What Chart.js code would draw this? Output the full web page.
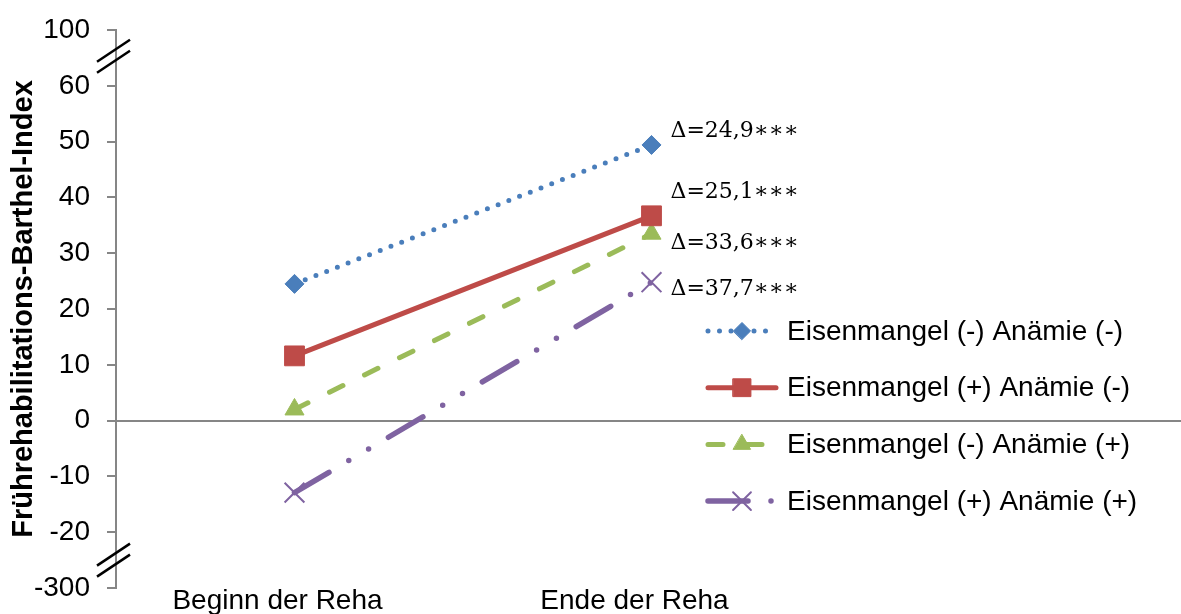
<!DOCTYPE html>
<html>
<head>
<meta charset="utf-8">
<script src="https://cdn.jsdelivr.net/npm/chart.js@4.4.1/dist/chart.umd.min.js"></script>
<style>
  html, body { margin: 0; padding: 0; background: #ffffff; }
  #wrap { width: 1181px; height: 614px; position: relative; }
</style>
</head>
<body>
<div id="wrap"><canvas id="chart" width="1181" height="614"></canvas></div>
<script>
// Categories and series (Frührehabilitations-Barthel-Index, mean per group)
const categories = ['Beginn der Reha', 'Ende der Reha'];
const seriesNames = [
  'Eisenmangel (-) Anämie (-)',
  'Eisenmangel (+) Anämie (-)',
  'Eisenmangel (-) Anämie (+)',
  'Eisenmangel (+) Anämie (+)'
];
const ironNegAnemiaNeg = [24.5, 49.4];
const ironPosAnemiaNeg = [11.6, 36.7];
const ironNegAnemiaPos = [2.0, 33.5];
const ironPosAnemiaPos = [-12.9, 24.8];

// Change annotations shown at the end of each line
const deltaLabels = ['Δ=24,9∗∗∗', 'Δ=25,1∗∗∗', 'Δ=33,6∗∗∗', 'Δ=37,7∗∗∗'];

// Broken y axis: the outermost ticks stand for 100 and -300
const yTickValues = [-30, -20, -10, 0, 10, 20, 30, 40, 50, 60, 70];
const yTickLabels = ['-300', '-20', '-10', '0', '10', '20', '30', '40', '50', '60', '100'];
const yTitle = 'Frührehabilitations-Barthel-Index';

const SANS = '"Liberation Sans", Arial, sans-serif';
const AXIS_GREY = '#868686';

const styles = [
  { color: '#4A7EBB', dash: [0, 11.5], width: 5, point: 'rectRot', radius: 9.5, pbw: 1 },
  { color: '#BE4B48', dash: [], width: 5, point: 'rect', radius: 14, pbw: 1 },
  { color: '#9BBB59', dash: [15, 24], width: 5, point: 'triangle', radius: 11, pbw: 1 },
  { color: '#7F63A1', dash: [40, 23, 0, 23, 0, 23], width: 5.5, point: 'crossRot', radius: 14, pbw: 2 }
];
const seriesData = [ironNegAnemiaNeg, ironPosAnemiaNeg, ironNegAnemiaPos, ironPosAnemiaPos];

const datasets = seriesData.map((d, i) => ({
  label: seriesNames[i],
  data: d,
  borderColor: styles[i].color,
  backgroundColor: styles[i].color,
  borderWidth: styles[i].width,
  borderDash: styles[i].dash,
  borderCapStyle: 'round',
  tension: 0,
  fill: false,
  pointStyle: styles[i].point,
  pointRadius: styles[i].radius,
  pointBackgroundColor: styles[i].color,
  pointBorderColor: styles[i].color,
  pointBorderWidth: styles[i].pbw
}));

// Zero line running across the full width, drawn beneath the series
const zeroLine = {
  id: 'zeroLine',
  beforeDatasetsDraw(chart) {
    const { ctx } = chart;
    const y = chart.scales.y;
    const py = Math.round(y.getPixelForValue(0));
    ctx.save();
    ctx.strokeStyle = AXIS_GREY;
    ctx.lineWidth = 2;
    ctx.beginPath();
    ctx.moveTo(y.right, py);
    ctx.lineTo(chart.width, py);
    ctx.stroke();
    ctx.restore();
  }
};

// Double slash marks where the value axis is interrupted
const axisBreaks = {
  id: 'axisBreaks',
  afterDraw(chart) {
    const { ctx } = chart;
    const y = chart.scales.y;
    const x0 = y.right;
    ctx.save();
    ctx.strokeStyle = '#000';
    ctx.lineWidth = 2.5;
    [65.6, -24.7].forEach(v => {
      const py = y.getPixelForValue(v);
      [-5.5, 5.5].forEach(off => {
        ctx.beginPath();
        ctx.moveTo(x0 - 19, py + off + 12.7);
        ctx.lineTo(x0 + 14, py + off - 9.3);
        ctx.stroke();
      });
    });
    ctx.restore();
  }
};

// Δ annotations next to the end points
const deltaNotes = {
  id: 'deltaNotes',
  afterDatasetsDraw(chart) {
    const { ctx } = chart;
    const shifts = [-14, -24, 10, 7];
    ctx.save();
    ctx.font = '22px "DejaVu Serif", "Liberation Serif", serif';
    ctx.fillStyle = '#000';
    ctx.textAlign = 'left';
    ctx.textBaseline = 'middle';
    deltaLabels.forEach((t, i) => {
      const pt = chart.getDatasetMeta(i).data[1];
      ctx.fillText(t, pt.x + 19, pt.y + shifts[i]);
    });
    ctx.restore();
  }
};

// Legend with line sample and marker for every series
const lineLegend = {
  id: 'lineLegend',
  afterDraw(chart) {
    const { ctx } = chart;
    const x1 = 708, x2 = 776, xm = 742, xt = 787;
    const top = 331, step = 56.7;
    ctx.save();
    chart.data.datasets.forEach((ds, i) => {
      const yy = top + i * step;
      ctx.strokeStyle = ds.borderColor;
      ctx.fillStyle = ds.borderColor;
      ctx.lineWidth = ds.borderWidth;
      ctx.lineCap = 'round';
      ctx.setLineDash(ds.borderDash);
      ctx.beginPath();
      ctx.moveTo(x1, yy);
      ctx.lineTo(x2, yy);
      ctx.stroke();
      ctx.setLineDash([]);
      ctx.lineWidth = ds.pointBorderWidth;
      Chart.helpers.drawPoint(ctx, {
        pointStyle: ds.pointStyle,
        radius: ds.pointRadius * 0.9,
        borderWidth: ds.pointBorderWidth,
        rotation: 0
      }, xm, yy);
      ctx.fillStyle = '#000';
      ctx.font = '28px ' + SANS;
      ctx.textAlign = 'left';
      ctx.textBaseline = 'middle';
      ctx.fillText(ds.label, xt, yy + 1);
    });
    ctx.restore();
  }
};

new Chart(document.getElementById('chart'), {
  type: 'line',
  data: { labels: categories, datasets },
  plugins: [zeroLine, axisBreaks, deltaNotes, lineLegend],
  options: {
    responsive: false,
    animation: false,
    devicePixelRatio: 1,
    layout: { padding: { top: 30, right: 351, left: 0, bottom: 0 } },
    plugins: { legend: { display: false }, tooltip: { enabled: false } },
    scales: {
      x: {
        type: 'category',
        offset: true,
        grid: { display: false, drawTicks: false, tickLength: 0 },
        border: { display: false },
        ticks: {
          font: { family: SANS, size: 28 },
          color: '#000',
          labelOffset: -17,
          padding: -4,
          maxRotation: 0,
          autoSkip: false
        },
        afterFit(scale) { scale.height = 26; }
      },
      y: {
        min: -30,
        max: 70,
        afterBuildTicks(scale) { scale.ticks = yTickValues.map(v => ({ value: v })); },
        ticks: {
          callback: v => yTickLabels[yTickValues.indexOf(v)],
          font: { family: SANS, size: 28 },
          color: '#000',
          padding: 17
        },
        grid: { drawOnChartArea: false, tickLength: 9, color: AXIS_GREY, lineWidth: 2 },
        border: { color: AXIS_GREY, width: 2 },
        title: {
          display: true,
          text: yTitle,
          font: { family: SANS, size: 29, weight: 'bold' },
          color: '#000',
          padding: { top: 7, bottom: 0 }
        },
        afterFit(scale) {
          scale.width = 116;
          // let the outer labels overhang so the plot uses the full height
          scale.paddingTop = 0;
          scale.paddingBottom = 0;
        }
      }
    }
  }
});
</script>
</body>
</html>
